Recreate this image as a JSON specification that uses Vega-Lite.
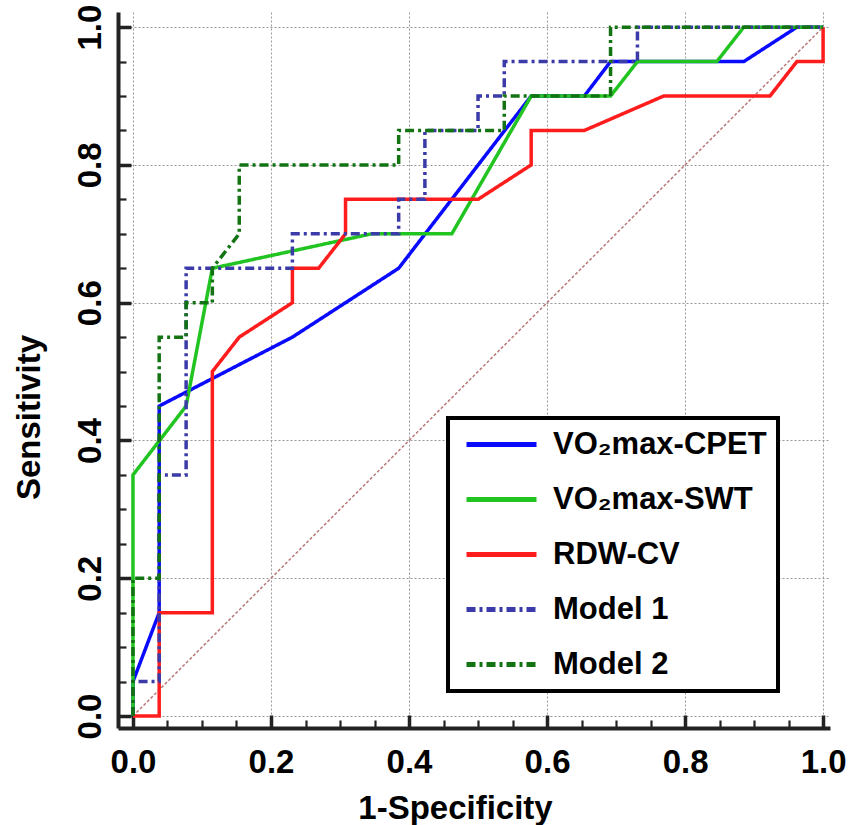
{
  "$schema": "https://vega.github.io/schema/vega-lite/v6.json",
  "autosize": {"type": "none"},
  "padding": {"left": 118, "top": 12, "right": 20, "bottom": 97},
  "width": 712,
  "height": 716,
  "background": "white",
  "config": {"view": {"stroke": null}, "legend": {"strokeWidth": 4}},
  "datasets": {
    "ref": [{"x": 0, "y": 0}, {"x": 1, "y": 1}],
    "roc": [
      {"s": "VO₂max-CPET", "i": 1, "x": 0, "y": 0},
      {"s": "VO₂max-CPET", "i": 2, "x": 0, "y": 0.05},
      {"s": "VO₂max-CPET", "i": 3, "x": 0.038, "y": 0.15},
      {"s": "VO₂max-CPET", "i": 4, "x": 0.038, "y": 0.45},
      {"s": "VO₂max-CPET", "i": 5, "x": 0.231, "y": 0.55},
      {"s": "VO₂max-CPET", "i": 6, "x": 0.385, "y": 0.65},
      {"s": "VO₂max-CPET", "i": 7, "x": 0.577, "y": 0.9},
      {"s": "VO₂max-CPET", "i": 8, "x": 0.654, "y": 0.9},
      {"s": "VO₂max-CPET", "i": 9, "x": 0.692, "y": 0.95},
      {"s": "VO₂max-CPET", "i": 10, "x": 0.885, "y": 0.95},
      {"s": "VO₂max-CPET", "i": 11, "x": 0.962, "y": 1},
      {"s": "VO₂max-CPET", "i": 12, "x": 1, "y": 1},
      {"s": "VO₂max-SWT", "i": 1, "x": 0, "y": 0},
      {"s": "VO₂max-SWT", "i": 2, "x": 0, "y": 0.35},
      {"s": "VO₂max-SWT", "i": 3, "x": 0.077, "y": 0.45},
      {"s": "VO₂max-SWT", "i": 4, "x": 0.115, "y": 0.65},
      {"s": "VO₂max-SWT", "i": 5, "x": 0.346, "y": 0.7},
      {"s": "VO₂max-SWT", "i": 6, "x": 0.462, "y": 0.7},
      {"s": "VO₂max-SWT", "i": 7, "x": 0.577, "y": 0.9},
      {"s": "VO₂max-SWT", "i": 8, "x": 0.692, "y": 0.9},
      {"s": "VO₂max-SWT", "i": 9, "x": 0.731, "y": 0.95},
      {"s": "VO₂max-SWT", "i": 10, "x": 0.846, "y": 0.95},
      {"s": "VO₂max-SWT", "i": 11, "x": 0.885, "y": 1},
      {"s": "VO₂max-SWT", "i": 12, "x": 1, "y": 1},
      {"s": "RDW-CV", "i": 1, "x": 0, "y": 0},
      {"s": "RDW-CV", "i": 2, "x": 0.038, "y": 0},
      {"s": "RDW-CV", "i": 3, "x": 0.038, "y": 0.15},
      {"s": "RDW-CV", "i": 4, "x": 0.115, "y": 0.15},
      {"s": "RDW-CV", "i": 5, "x": 0.115, "y": 0.5},
      {"s": "RDW-CV", "i": 6, "x": 0.154, "y": 0.55},
      {"s": "RDW-CV", "i": 7, "x": 0.231, "y": 0.6},
      {"s": "RDW-CV", "i": 8, "x": 0.231, "y": 0.65},
      {"s": "RDW-CV", "i": 9, "x": 0.269, "y": 0.65},
      {"s": "RDW-CV", "i": 10, "x": 0.308, "y": 0.7},
      {"s": "RDW-CV", "i": 11, "x": 0.308, "y": 0.75},
      {"s": "RDW-CV", "i": 12, "x": 0.5, "y": 0.75},
      {"s": "RDW-CV", "i": 13, "x": 0.577, "y": 0.8},
      {"s": "RDW-CV", "i": 14, "x": 0.577, "y": 0.85},
      {"s": "RDW-CV", "i": 15, "x": 0.654, "y": 0.85},
      {"s": "RDW-CV", "i": 16, "x": 0.769, "y": 0.9},
      {"s": "RDW-CV", "i": 17, "x": 0.923, "y": 0.9},
      {"s": "RDW-CV", "i": 18, "x": 0.962, "y": 0.95},
      {"s": "RDW-CV", "i": 19, "x": 1, "y": 0.95},
      {"s": "RDW-CV", "i": 20, "x": 1, "y": 1},
      {"s": "Model 1", "i": 1, "x": 0, "y": 0},
      {"s": "Model 1", "i": 2, "x": 0, "y": 0.05},
      {"s": "Model 1", "i": 3, "x": 0.038, "y": 0.05},
      {"s": "Model 1", "i": 4, "x": 0.038, "y": 0.35},
      {"s": "Model 1", "i": 5, "x": 0.077, "y": 0.35},
      {"s": "Model 1", "i": 6, "x": 0.077, "y": 0.65},
      {"s": "Model 1", "i": 7, "x": 0.231, "y": 0.65},
      {"s": "Model 1", "i": 8, "x": 0.231, "y": 0.7},
      {"s": "Model 1", "i": 9, "x": 0.385, "y": 0.7},
      {"s": "Model 1", "i": 10, "x": 0.385, "y": 0.75},
      {"s": "Model 1", "i": 11, "x": 0.423, "y": 0.75},
      {"s": "Model 1", "i": 12, "x": 0.423, "y": 0.85},
      {"s": "Model 1", "i": 13, "x": 0.5, "y": 0.85},
      {"s": "Model 1", "i": 14, "x": 0.5, "y": 0.9},
      {"s": "Model 1", "i": 15, "x": 0.538, "y": 0.9},
      {"s": "Model 1", "i": 16, "x": 0.538, "y": 0.95},
      {"s": "Model 1", "i": 17, "x": 0.731, "y": 0.95},
      {"s": "Model 1", "i": 18, "x": 0.731, "y": 1},
      {"s": "Model 1", "i": 19, "x": 1, "y": 1},
      {"s": "Model 2", "i": 1, "x": 0, "y": 0},
      {"s": "Model 2", "i": 2, "x": 0, "y": 0.2},
      {"s": "Model 2", "i": 3, "x": 0.038, "y": 0.2},
      {"s": "Model 2", "i": 4, "x": 0.038, "y": 0.55},
      {"s": "Model 2", "i": 5, "x": 0.077, "y": 0.55},
      {"s": "Model 2", "i": 6, "x": 0.077, "y": 0.6},
      {"s": "Model 2", "i": 7, "x": 0.115, "y": 0.6},
      {"s": "Model 2", "i": 8, "x": 0.115, "y": 0.65},
      {"s": "Model 2", "i": 9, "x": 0.154, "y": 0.7},
      {"s": "Model 2", "i": 10, "x": 0.154, "y": 0.8},
      {"s": "Model 2", "i": 11, "x": 0.385, "y": 0.8},
      {"s": "Model 2", "i": 12, "x": 0.385, "y": 0.85},
      {"s": "Model 2", "i": 13, "x": 0.538, "y": 0.85},
      {"s": "Model 2", "i": 14, "x": 0.538, "y": 0.9},
      {"s": "Model 2", "i": 15, "x": 0.692, "y": 0.9},
      {"s": "Model 2", "i": 16, "x": 0.692, "y": 1},
      {"s": "Model 2", "i": 17, "x": 1, "y": 1}
    ]
  },
  "encoding": {
    "x": {
      "field": "x", "type": "quantitative",
      "scale": {"domain": [-0.0217, 1.01], "nice": false, "zero": false},
      "axis": {
        "values": [0, 0.05, 0.1, 0.15, 0.2, 0.25, 0.3, 0.35, 0.4, 0.45, 0.5, 0.55, 0.6, 0.65, 0.7, 0.75, 0.8, 0.85, 0.9, 0.95, 1],
        "labelExpr": "abs(datum.value*5 - round(datum.value*5)) < 0.001 ? format(datum.value, '.1f') : ''",
        "domainColor": "#222222", "domainWidth": 4,
        "tickColor": "#222222", "tickSize": -13,
        "tickDash": {"condition": {"test": "abs(datum.value*5 - round(datum.value*5)) < 0.001", "value": [1, 0]}, "value": [8, 100]},
        "tickWidth": {"condition": {"test": "abs(datum.value*5 - round(datum.value*5)) < 0.001", "value": 3.5}, "value": 2.2},
        "grid": true, "gridColor": "#999999", "gridDash": [2, 2], "gridWidth": 1,
        "gridOpacity": {"condition": {"test": "abs(datum.value*5 - round(datum.value*5)) < 0.001", "value": 1}, "value": 0},
        "labelFont": "Liberation Sans", "labelFontWeight": "bold", "labelFontSize": 33, "labelColor": "black",
        "labelBaseline": "top", "labelPadding": 31, "labelFlush": false, "labelOverlap": false,
        "title": "1-Specificity", "titleFont": "Liberation Sans", "titleFontWeight": "bold", "titleFontSize": 33, "titleColor": "black",
        "titleX": 337, "titleY": 90, "titleBaseline": "alphabetic", "titleAlign": "center"
      }
    },
    "y": {
      "field": "y", "type": "quantitative",
      "scale": {"domain": [-0.0174, 1.022], "nice": false, "zero": false},
      "axis": {
        "values": [0, 0.05, 0.1, 0.15, 0.2, 0.25, 0.3, 0.35, 0.4, 0.45, 0.5, 0.55, 0.6, 0.65, 0.7, 0.75, 0.8, 0.85, 0.9, 0.95, 1],
        "labelExpr": "abs(datum.value*5 - round(datum.value*5)) < 0.001 ? format(datum.value, '.1f') : ''",
        "domainColor": "#222222", "domainWidth": 4,
        "tickColor": "#222222", "tickSize": -13,
        "tickDash": {"condition": {"test": "abs(datum.value*5 - round(datum.value*5)) < 0.001", "value": [1, 0]}, "value": [8, 100]},
        "tickWidth": {"condition": {"test": "abs(datum.value*5 - round(datum.value*5)) < 0.001", "value": 3.5}, "value": 2.2},
        "grid": true, "gridColor": "#999999", "gridDash": [2, 2], "gridWidth": 1,
        "gridOpacity": {"condition": {"test": "abs(datum.value*5 - round(datum.value*5)) < 0.001", "value": 1}, "value": 0},
        "labelFont": "Liberation Sans", "labelFontWeight": "bold", "labelFontSize": 33, "labelColor": "black",
        "labelAngle": -90, "labelAlign": "center", "labelBaseline": "alphabetic", "labelPadding": 31, "labelFlush": false, "labelOverlap": false,
        "title": "Sensitivity", "titleFont": "Liberation Sans", "titleFontWeight": "bold", "titleFontSize": 33, "titleColor": "black",
        "titleAngle": -90, "titleX": -79, "titleY": 405, "titleBaseline": "alphabetic", "titleAlign": "center"
      }
    }
  },
  "layer": [
    {
      "data": {"name": "ref"},
      "mark": {"type": "line", "color": "#b87878", "strokeWidth": 1.5, "strokeDash": [3, 2]}
    },
    {
      "data": {"name": "roc"},
      "mark": {"type": "line", "strokeWidth": 3.5},
      "encoding": {
        "order": {"field": "i", "type": "quantitative"},
        "color": {
          "field": "s", "type": "nominal",
          "scale": {
            "domain": ["VO₂max-CPET", "VO₂max-SWT", "RDW-CV", "Model 1", "Model 2"],
            "range": ["#0a0aff", "#22c422", "#ff1c1c", "#3a3aa8", "#137313"]
          },
          "legend": {
            "title": null, "orient": "none", "legendX": 330, "legendY": 406,
            "symbolType": "M-5,0L5,0", "symbolSize": 196, "symbolStrokeWidth": 5, "symbolOffset": 27,
            "labelFont": "Liberation Sans", "labelFontSize": 31, "labelFontWeight": "bold", "labelColor": "black",
            "labelOffset": 36, "labelLimit": 500, "rowPadding": 23, "padding": 11,
            "strokeColor": "black", "fillColor": "white"
          }
        },
        "strokeDash": {
          "field": "s", "type": "nominal",
          "scale": {
            "domain": ["VO₂max-CPET", "VO₂max-SWT", "RDW-CV", "Model 1", "Model 2"],
            "range": [[1, 0], [1, 0], [1, 0], [9, 4, 3, 4], [9, 4, 3, 4]]
          },
          "legend": null
        }
      }
    }
  ]
}
